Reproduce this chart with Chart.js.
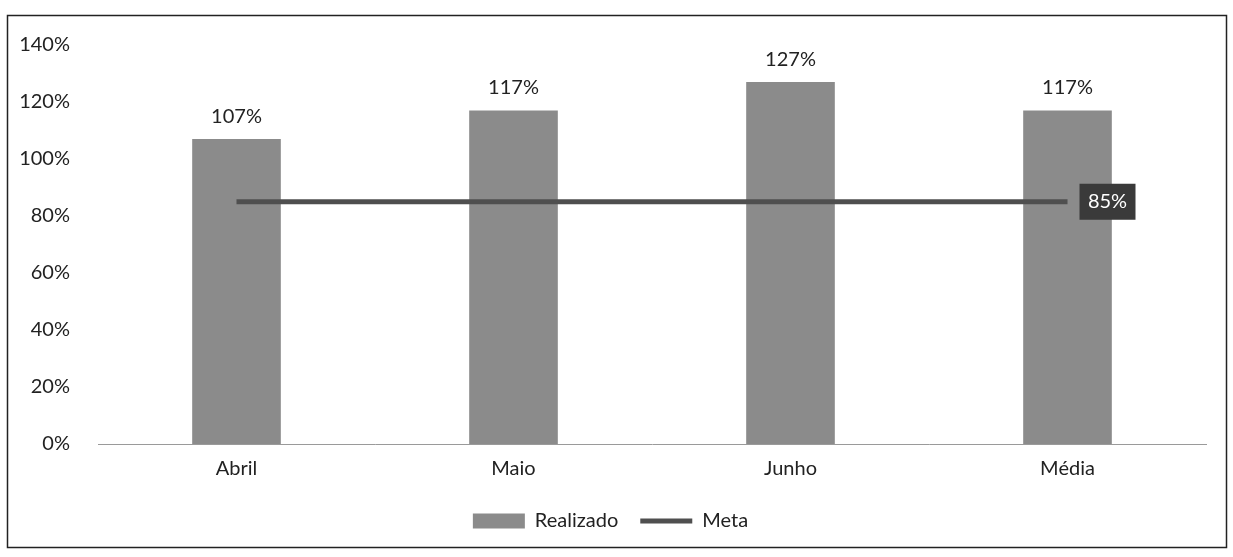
<!DOCTYPE html>
<html>
<head>
<meta charset="utf-8">
<script src="https://cdn.jsdelivr.net/npm/chart.js@4.4.0/dist/chart.umd.min.js"></script>
<style>
  html, body { margin: 0; padding: 0; background: #fff; }
  #wrap { width: 1233px; height: 557px; position: relative; }
</style>
</head>
<body>
<div id="wrap"><canvas id="chart"></canvas></div>
<script>
// dados do gráfico
const categorias = ['Abril', 'Maio', 'Junho', 'Média'];
const realizado = [107, 117, 127, 117];
const meta = [85, 85, 85, 85];
const yTicks = [0, 20, 40, 60, 80, 100, 120, 140];

const fonte = 'Lato, "Open Sans", sans-serif';

// moldura + rótulos de valor
const rotulos = {
    id: 'rotulos',
    beforeDraw(chart) {
        const ctx = chart.ctx;
        ctx.save();
        ctx.strokeStyle = '#222';
        ctx.lineWidth = 1.5;
        ctx.strokeRect(7.5, 15.5, 1219, 532);
        ctx.restore();
    },
    afterDatasetsDraw(chart) {
        const ctx = chart.ctx;
        ctx.save();
        ctx.font = '20px ' + fonte;
        ctx.textAlign = 'center';
        ctx.textBaseline = 'middle';

        // valores acima das barras
        const barras = chart.getDatasetMeta(0).data;
        barras.forEach((b, i) => {
            ctx.fillStyle = '#222';
            ctx.fillText(realizado[i] + '%', b.x, b.y - 23);
        });

        // rótulo da meta no último ponto
        const pts = chart.getDatasetMeta(1).data;
        const ult = pts[pts.length - 1];
        const txt = meta[meta.length - 1] + '%';
        const w = 56, h = 36;
        const x0 = ult.x + 12;
        ctx.fillStyle = '#3a3a3a';
        ctx.fillRect(x0, ult.y - h / 2, w, h);
        ctx.fillStyle = '#fff';
        ctx.fillText(txt, x0 + w / 2, ult.y);
        ctx.restore();
    }
};

new Chart(document.getElementById('chart'), {
    data: {
        labels: categorias,
        datasets: [{
            type: 'bar',
            label: 'Realizado',
            data: realizado,
            backgroundColor: '#8b8b8b',
            borderWidth: 0,
            barPercentage: 0.32,
            categoryPercentage: 1,
            pointStyle: 'rect',
            order: 2
        }, {
            type: 'line',
            label: 'Meta',
            data: meta,
            borderColor: '#4f4f4f',
            backgroundColor: '#4f4f4f',
            borderWidth: 5,
            pointRadius: 0,
            pointStyle: 'line',
            tension: 0,
            order: 1
        }]
    },
    options: {
        responsive: true,
        maintainAspectRatio: false,
        animation: false,
        layout: { padding: { left: 15, right: 27, top: 45, bottom: 16 } },
        plugins: {
            tooltip: { enabled: false },
            legend: {
                position: 'bottom',
                labels: {
                    usePointStyle: true,
                    pointStyleWidth: 52,
                    boxHeight: 15,
                    padding: 22,
                    color: '#222',
                    font: { family: fonte, size: 20 },
                    sort: (a, b) => a.datasetIndex - b.datasetIndex
                }
            }
        },
        scales: {
            x: {
                afterFit(scale) { scale.height = 45; },
                grid: { display: false },
                border: { display: true, color: '#9a9a9a', width: 1 },
                ticks: { color: '#222', padding: 5, font: { family: fonte, size: 20 } }
            },
            y: {
                min: 0,
                max: 140,
                afterFit(scale) { scale.width = 83; },
                afterBuildTicks(scale) { scale.ticks = yTicks.map(v => ({ value: v })); },
                grid: { display: false },
                border: { display: false },
                ticks: {
                    color: '#222',
                    padding: 20,
                    font: { family: fonte, size: 20 },
                    callback: v => v + '%'
                }
            }
        }
    },
    plugins: [rotulos]
});
</script>
</body>
</html>
